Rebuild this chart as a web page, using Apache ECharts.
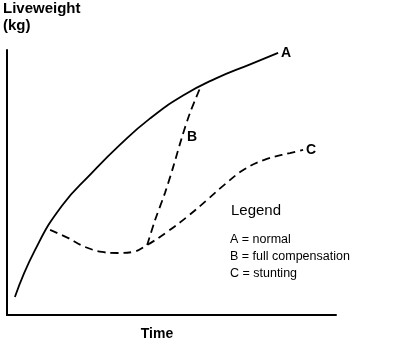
<!DOCTYPE html>
<html>
<head>
<meta charset="utf-8">
<script src="https://cdn.jsdelivr.net/npm/echarts@6/dist/echarts.min.js"></script>
<style>
  html, body { margin: 0; padding: 0; background: #fff; }
  #chart { width: 394px; height: 344px; }
</style>
</head>
<body>
<div id="chart"></div>
<script>
// Growth curves: time (0-100) against liveweight (0-100), relative units
const normalA = [
  [2.4, 6.8], [8.5, 24.5], [16.7, 41.2], [25.8, 53.6], [34.3, 64.2],
  [43.5, 74.2], [53.5, 82.8], [63.2, 89.1], [73.9, 94.6], [82.4, 98.9]
];
const compensationB = [
  [42.6, 26.4], [45.0, 35.8], [48.0, 46.0], [50.5, 55.8], [53.2, 67.2],
  [55.6, 76.2], [58.7, 85.7]
];
const stuntingC = [
  [13.1, 32.1], [18.5, 29.1], [23.7, 25.7], [28.9, 23.8], [33.4, 23.4],
  [38.3, 23.8], [42.6, 26.4], [48.6, 31.3], [54.7, 37.0], [60.8, 43.4],
  [66.3, 49.4], [72.3, 55.1], [79.0, 58.9], [86.0, 61.1], [90.0, 62.3]
];
const curveNames = ['A', 'B', 'C'];
const yAxisTitle = ['Liveweight', '(kg)'];
const xAxisTitle = 'Time';
const legendTitle = 'Legend';
const legendRows = ['A = normal', 'B = full compensation', 'C = stunting'];

const FONT = '"Liberation Sans", Arial, Helvetica, sans-serif';
const INK = '#000';

const chart = echarts.init(document.getElementById('chart'), null, { renderer: 'canvas' });

const axisCommon = {
  type: 'value',
  min: 0,
  max: 100,
  axisLine: { show: true, lineStyle: { color: INK, width: 2 } },
  axisTick: { show: false },
  axisLabel: { show: false },
  splitLine: { show: false }
};

const curveLabel = {
  color: INK,
  fontFamily: FONT,
  fontWeight: 'bold',
  fontSize: 14
};

// B label sits beside the rising part of the compensation curve
const bData = compensationB.map((p, i) => i === 4
  ? { value: p, label: { show: true, position: 'right', distance: 5, formatter: curveNames[1], ...curveLabel } }
  : p);

chart.setOption({
  animation: false,
  backgroundColor: '#fff',
  grid: { left: 7, right: 58, top: 50, bottom: 29 },
  xAxis: axisCommon,
  yAxis: axisCommon,
  series: [
    {
      name: curveNames[0],
      type: 'line',
      data: normalA,
      smooth: 0.5,
      symbol: 'none',
      lineStyle: { color: INK, width: 1.8 },
      endLabel: { show: true, formatter: curveNames[0], distance: 3, ...curveLabel }
    },
    {
      name: curveNames[1],
      type: 'line',
      data: bData,
      smooth: 0.3,
      symbol: 'circle',
      symbolSize: 0,
      showSymbol: true,
      lineStyle: { color: INK, width: 1.8, type: [8, 5] }
    },
    {
      name: curveNames[2],
      type: 'line',
      data: stuntingC,
      smooth: 0.4,
      symbol: 'none',
      lineStyle: { color: INK, width: 1.8, type: [8, 5] },
      endLabel: { show: true, formatter: curveNames[2], distance: 3, ...curveLabel }
    }
  ],
  graphic: [
    {
      type: 'text', left: 3, top: 0,
      style: { text: yAxisTitle.join('\n'), fill: INK, font: 'bold 15px ' + FONT, lineHeight: 17 }
    },
    {
      type: 'text', x: 157, y: 334,
      style: { text: xAxisTitle, fill: INK, font: 'bold 14px ' + FONT, align: 'center', verticalAlign: 'middle' }
    },
    {
      type: 'text', x: 231, y: 211,
      style: { text: legendTitle, fill: INK, font: '15px ' + FONT, verticalAlign: 'middle' }
    },
    ...legendRows.map((t, i) => ({
      type: 'text', x: 230, y: 240 + i * 17,
      style: { text: t, fill: INK, font: '12.5px ' + FONT, verticalAlign: 'middle' }
    }))
  ]
});
</script>
</body>
</html>
